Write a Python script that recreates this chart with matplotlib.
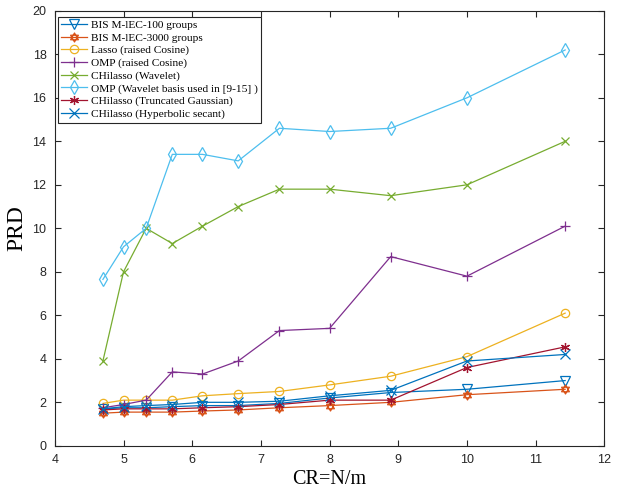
import matplotlib.pyplot as plt
from matplotlib.path import Path

# compression ratio CR = N/m
cr = [4.7, 5.0, 5.33, 5.71, 6.15, 6.67, 7.27, 8.0, 8.89, 10.0, 11.43]

bis_100 = [1.7, 1.75, 1.75, 1.8, 1.85, 1.85, 1.95, 2.2, 2.45, 2.6, 3.0]
bis_3000 = [1.5, 1.55, 1.55, 1.55, 1.6, 1.65, 1.75, 1.85, 2.0, 2.35, 2.6]
lasso_rc = [1.95, 2.1, 2.1, 2.1, 2.3, 2.4, 2.5, 2.8, 3.2, 4.1, 6.1]
omp_rc = [1.75, 1.9, 2.1, 3.4, 3.3, 3.9, 5.3, 5.4, 8.7, 7.8, 10.1]
chil_wav = [3.9, 8.0, 10.0, 9.3, 10.1, 11.0, 11.8, 11.8, 11.5, 12.0, 14.0]
omp_wav = [7.65, 9.15, 10.0, 13.4, 13.4, 13.1, 14.6, 14.45, 14.6, 16.0, 18.2]
chil_tg = [1.65, 1.7, 1.7, 1.7, 1.75, 1.8, 1.9, 2.1, 2.1, 3.6, 4.55]
chil_hs = [1.7, 1.8, 1.85, 1.9, 2.0, 2.0, 2.05, 2.3, 2.55, 3.9, 4.2]

labels = ['BIS M-lEC-100 groups', 'BIS M-lEC-3000 groups', 'Lasso (raised Cosine)',
          'OMP (raised Cosine)', 'CHilasso (Wavelet)', 'OMP (Wavelet basis used in [9-15] )',
          'CHilasso (Truncated Gaussian)', 'CHilasso (Hyperbolic secant)']

# hexagram marker (two triangles)
up = Path([(0, 1), (-0.866, -0.5), (0.866, -0.5), (0, 1)],
          [Path.MOVETO, Path.LINETO, Path.LINETO, Path.CLOSEPOLY])
dn = Path([(0, -1), (-0.866, 0.5), (0.866, 0.5), (0, -1)],
          [Path.MOVETO, Path.LINETO, Path.LINETO, Path.CLOSEPOLY])
hexagram = Path.make_compound_path(up, dn)

fig = plt.figure(figsize=(6.23, 4.91), dpi=100)
ax = fig.add_axes([0.088, 0.092, 0.882, 0.886])

series = [bis_100, bis_3000, lasso_rc, omp_rc, chil_wav, omp_wav, chil_tg, chil_hs]
colors = ['#0072BD', '#D95319', '#EDB120', '#7E2F8E', '#77AC30', '#4DBEEE', '#A2142F', '#0072BD']
markers = ['v', hexagram, 'o', '+', 'x', 'd', (6, 2, 0), 'x']
sizes = [6.5, 6.5, 6, 7.5, 6, 7, 6.5, 6.5]

for y, c, m, s, lab in zip(series, colors, markers, sizes, labels):
    ax.plot(cr, y, color=c, marker=m, markersize=s, markerfacecolor='none',
            markeredgecolor=c, linewidth=0.9, markeredgewidth=0.9, label=lab)

ax.set_xlim(4, 12)
ax.set_ylim(0, 20)
ax.set_xticks(range(4, 13))
ax.set_yticks(range(0, 21, 2))
ax.tick_params(direction='in', top=True, right=True, colors='#262626',
               length=4, width=0.8, pad=6)
for lbl in ax.get_xticklabels() + ax.get_yticklabels():
    lbl.set_family('Liberation Sans')
    lbl.set_fontsize(9)
for sp in ax.spines.values():
    sp.set_color('#262626')
    sp.set_linewidth(0.8)

ax.set_xlabel('CR=N/m', fontsize=14.5, family='Liberation Serif', labelpad=3)
ax.set_ylabel('PRD', fontsize=17, family='Liberation Serif', labelpad=4)

leg = ax.legend(loc='upper left', bbox_to_anchor=(0.0055, 0.986), borderaxespad=0,
                prop={'family': 'Liberation Serif', 'size': 8.2},
                fancybox=False, edgecolor='#262626', framealpha=1,
                handlelength=2.3, labelspacing=0.22,
                borderpad=0.3, handletextpad=0.3)
leg.get_frame().set_linewidth(0.8)

fig.savefig('out.png', dpi=100)
